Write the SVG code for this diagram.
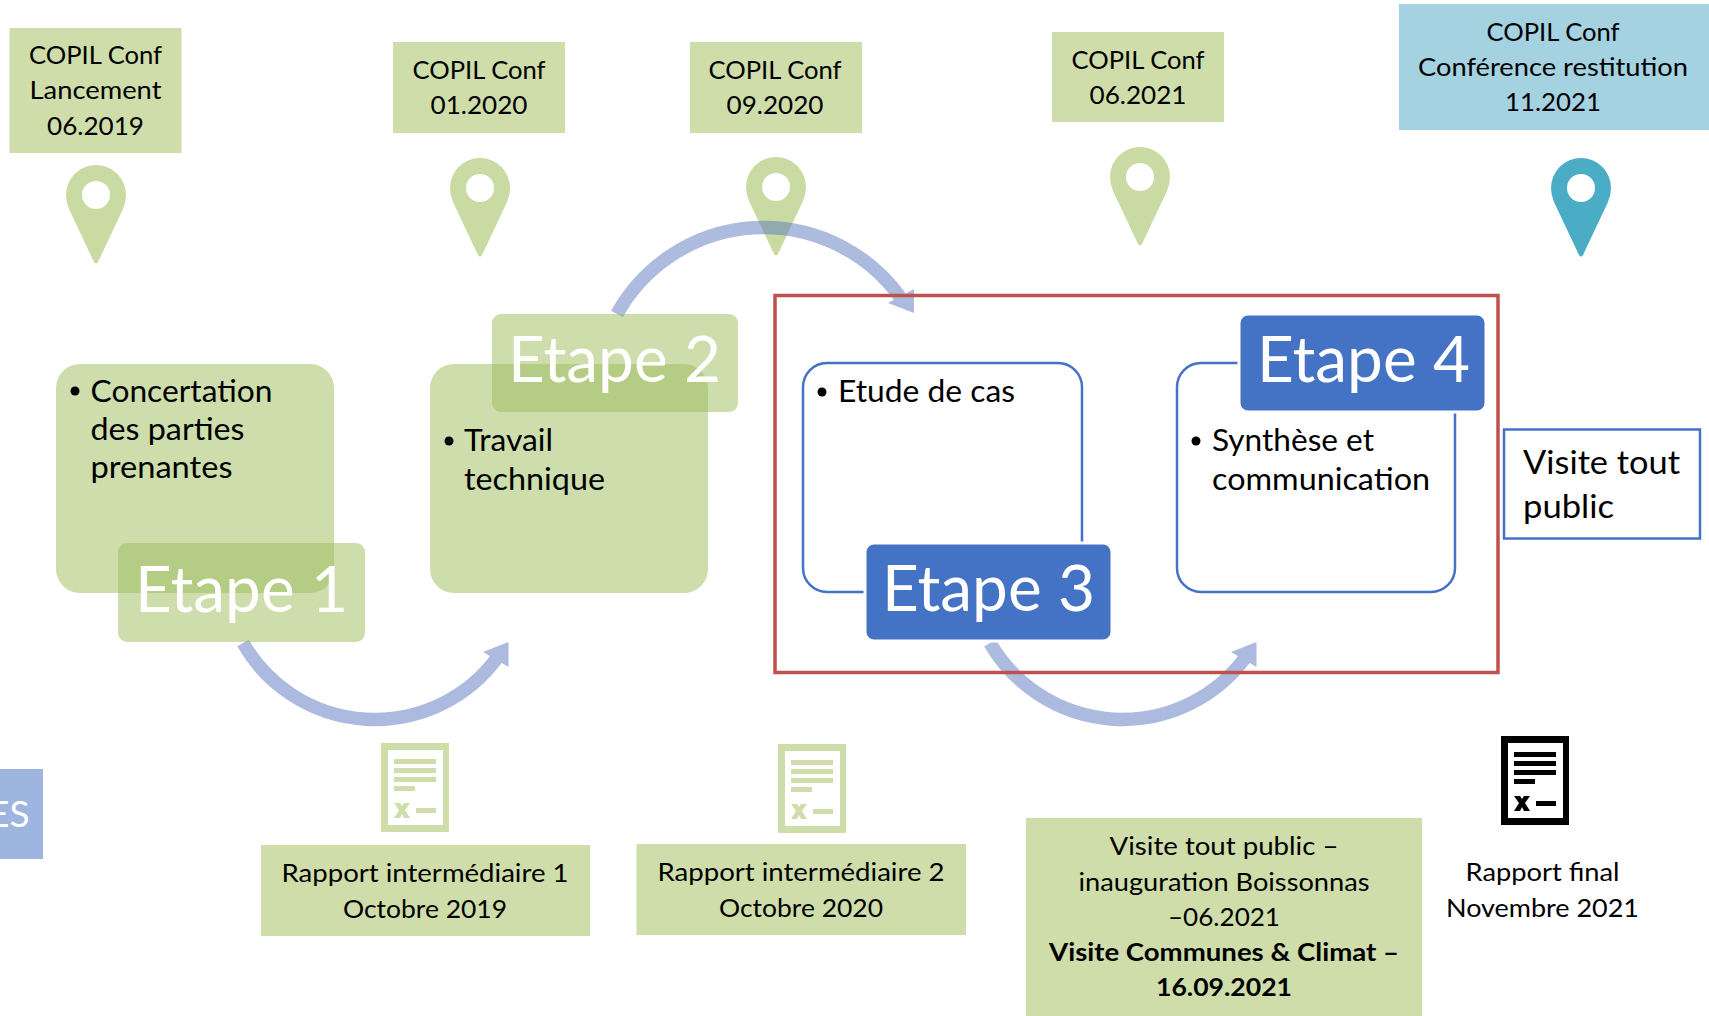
<svg xmlns="http://www.w3.org/2000/svg" width="1709" height="1016" viewBox="0 0 1709 1016">
<style>
text{font-family:"Lato","Carlito","Liberation Sans",sans-serif;fill:#000}
.c{text-anchor:middle}
.t{font-size:25px}
.b{font-size:30px}
.e{font-size:63px;fill:#fff}
.v{font-size:33px}
.bold{font-weight:700}
.g{fill:#CEDDAA}
.tr{fill:#9BBB59;fill-opacity:.5}
.bl{fill:#4472C4;stroke:#fff;stroke-width:3}
.out{fill:#fff;stroke:#4472C4;stroke-width:2.5}
.arc{fill:none;stroke:#5A78BE;stroke-width:13.500}
.head{fill:#5A78BE;stroke:none}
.bul{fill:#000}
</style>
<defs>
<symbol id="doc" viewBox="0 0 68 89" width="68" height="89">
<path fill-rule="evenodd" d="M0 0H68V89H0ZM7 7V82H62V7Z"/>
<path d="M13 16H55V21H13ZM13 25H55V30H13ZM13 34H55V39H13ZM13 43H34V48H13ZM35 65H55V70H35Z"/>
<path d="M13 60H19L21 63L23 60H29L24 67L29 75H23L21 71L19 75H13L18 67Z"/>
</symbol>
<symbol id="pin" viewBox="-30 0 60 100" width="60" height="100">
<path fill-rule="evenodd" d="M-2 97L-27 44Q-30 37-30 30A30 30 0 0 1 30 30Q30 37 27 44L2 97Q0 100-2 97ZM0 16A14 14 0 1 0 0 44A14 14 0 1 0 0 16Z"/>
</symbol>
</defs>

<g id="pins">
<use href="#pin" x="66" y="165" fill="#C9DAA3"/>
<use href="#pin" x="450" y="158" fill="#C9DAA3"/>
<use href="#pin" x="746" y="157" fill="#C9DAA3"/>
<use href="#pin" x="1110" y="147" fill="#C9DAA3"/>
<use href="#pin" x="1551" y="158" fill="#4BACC6"/>
</g>

<g id="connectors">
<g opacity=".5"><path class="arc" d="M243 643A152 152 0 0 0 497 658"/><path class="head" d="M483 652L508.5 642V667Z"/></g>
<g opacity=".5"><path class="arc" d="M617 314A168 168 0 0 1 900 297"/><path class="head" d="M888 303L914 289V313Z"/></g>
<g opacity=".5"><path class="arc" d="M990 643A153 153 0 0 0 1245 658"/><path class="head" d="M1231 652L1256.5 642V667Z"/></g>
</g>

<g id="copil1"><rect class="g" x="9.500" y="28" width="172" height="125"/>
<text class="t c" x="95.500" y="64" textLength="133" lengthAdjust="spacingAndGlyphs">COPIL Conf</text><text class="t c" x="95.500" y="99" textLength="132" lengthAdjust="spacingAndGlyphs">Lancement</text><text class="t c" x="95.500" y="134.500" textLength="97" lengthAdjust="spacingAndGlyphs">06.2019</text></g>
<g id="copil2"><rect class="g" x="393" y="42" width="172" height="91"/>
<text class="t c" x="479" y="78.500" textLength="133" lengthAdjust="spacingAndGlyphs">COPIL Conf</text><text class="t c" x="479" y="114" textLength="97" lengthAdjust="spacingAndGlyphs">01.2020</text></g>
<g id="copil3"><rect class="g" x="690" y="42" width="172" height="91"/>
<text class="t c" x="775" y="78.500" textLength="133" lengthAdjust="spacingAndGlyphs">COPIL Conf</text><text class="t c" x="775" y="114" textLength="97" lengthAdjust="spacingAndGlyphs">09.2020</text></g>
<g id="copil4"><rect class="g" x="1052" y="32" width="172" height="90"/>
<text class="t c" x="1138" y="68.500" textLength="133" lengthAdjust="spacingAndGlyphs">COPIL Conf</text><text class="t c" x="1138" y="104" textLength="97" lengthAdjust="spacingAndGlyphs">06.2021</text></g>
<g id="copil5"><rect fill="#A5D2E0" x="1399" y="4" width="310" height="126"/>
<text class="t c" x="1553" y="41" textLength="133" lengthAdjust="spacingAndGlyphs">COPIL Conf</text><text class="t c" x="1553" y="76" textLength="270" lengthAdjust="spacingAndGlyphs">Conférence restitution</text><text class="t c" x="1553" y="111" textLength="96" lengthAdjust="spacingAndGlyphs">11.2021</text></g>

<g id="etape1">
<rect class="tr" x="56" y="364" width="278" height="229" rx="24"/>
<circle class="bul" cx="75" cy="391" r="4.500"/>
<text class="b" x="90.500" y="401.500" textLength="182" lengthAdjust="spacingAndGlyphs">Concertation</text><text class="b" x="90.500" y="439.500" textLength="154" lengthAdjust="spacingAndGlyphs">des parties</text><text class="b" x="90.500" y="477.500" textLength="142" lengthAdjust="spacingAndGlyphs">prenantes</text>
<rect class="tr" x="118" y="543" width="247" height="99" rx="9"/>
<text class="e" x="135" y="612" textLength="213" lengthAdjust="spacingAndGlyphs">Etape 1</text>
</g>
<g id="etape2">
<rect class="tr" x="430" y="364" width="278" height="229" rx="24"/>
<circle class="bul" cx="449" cy="441" r="4.500"/>
<text class="b" x="464" y="451" textLength="89" lengthAdjust="spacingAndGlyphs">Travail</text><text class="b" x="464" y="490" textLength="141" lengthAdjust="spacingAndGlyphs">technique</text>
<rect class="tr" x="492" y="314" width="246" height="98" rx="9"/>
<text class="e" x="508" y="382" textLength="213" lengthAdjust="spacingAndGlyphs">Etape 2</text>
</g>

<g id="scope"><rect x="775" y="295.500" width="723" height="377" fill="none" stroke="#C0504D" stroke-width="3.500"/></g>

<g id="etape3">
<rect class="out" x="803" y="363" width="279" height="229" rx="24"/>
<circle class="bul" cx="822" cy="392" r="4.500"/>
<text class="b" x="838" y="402" textLength="177" lengthAdjust="spacingAndGlyphs">Etude de cas</text>
<rect class="bl" x="865" y="543" width="247" height="98" rx="9"/>
<text class="e" x="882" y="611" textLength="213" lengthAdjust="spacingAndGlyphs">Etape 3</text>
</g>
<g id="etape4">
<rect class="out" x="1177" y="363" width="278" height="229" rx="24"/>
<circle class="bul" cx="1196" cy="441" r="4.500"/>
<text class="b" x="1212" y="450.500" textLength="162" lengthAdjust="spacingAndGlyphs">Synthèse et</text><text class="b" x="1212" y="489.500" textLength="218" lengthAdjust="spacingAndGlyphs">communication</text>
<rect class="bl" x="1239" y="314" width="247" height="98" rx="9"/>
<text class="e" x="1257" y="382" textLength="213" lengthAdjust="spacingAndGlyphs">Etape 4</text>
</g>

<g id="visite"><rect x="1504" y="429.500" width="196" height="109" fill="#fff" stroke="#4472C4" stroke-width="2.500"/>
<text class="v" x="1523" y="474" textLength="157" lengthAdjust="spacingAndGlyphs">Visite tout</text><text class="v" x="1523" y="518" textLength="91" lengthAdjust="spacingAndGlyphs">public</text></g>

<g id="es"><rect fill="#9DB5DF" x="0" y="769" width="43" height="90"/>
<text x="29.500" y="827" text-anchor="end" style="font-size:37px;fill:#fff">ES</text></g>

<g id="rapport1"><use href="#doc" x="381" y="743" fill="#CEDDAA"/>
<rect class="g" x="261" y="845" width="329" height="91"/>
<text class="t c" x="425" y="881.500" textLength="287" lengthAdjust="spacingAndGlyphs">Rapport intermédiaire 1</text><text class="t c" x="425" y="917.500" textLength="164" lengthAdjust="spacingAndGlyphs">Octobre 2019</text></g>
<g id="rapport2"><use href="#doc" x="778" y="744" fill="#CEDDAA"/>
<rect class="g" x="636.500" y="844" width="329.500" height="91"/>
<text class="t c" x="801" y="880.500" textLength="287" lengthAdjust="spacingAndGlyphs">Rapport intermédiaire 2</text><text class="t c" x="801" y="916.500" textLength="164" lengthAdjust="spacingAndGlyphs">Octobre 2020</text></g>
<g id="visites"><rect class="g" x="1026" y="818" width="396" height="198"/>
<text class="t c" x="1224" y="855" textLength="229" lengthAdjust="spacingAndGlyphs">Visite tout public –</text><text class="t c" x="1224" y="891" textLength="291" lengthAdjust="spacingAndGlyphs">inauguration Boissonnas</text><text class="t c" x="1224" y="926" textLength="112" lengthAdjust="spacingAndGlyphs">–06.2021</text>
<text class="t c bold" x="1224" y="961" textLength="350" lengthAdjust="spacingAndGlyphs">Visite Communes &amp; Climat –</text><text class="t c bold" x="1224" y="996" textLength="136" lengthAdjust="spacingAndGlyphs">16.09.2021</text></g>
<g id="rapportfinal"><use href="#doc" x="1501" y="736" fill="#000"/>
<text class="t c" x="1542.500" y="881" textLength="154" lengthAdjust="spacingAndGlyphs">Rapport final</text><text class="t c" x="1542.500" y="917" textLength="193" lengthAdjust="spacingAndGlyphs">Novembre 2021</text></g>
</svg>
